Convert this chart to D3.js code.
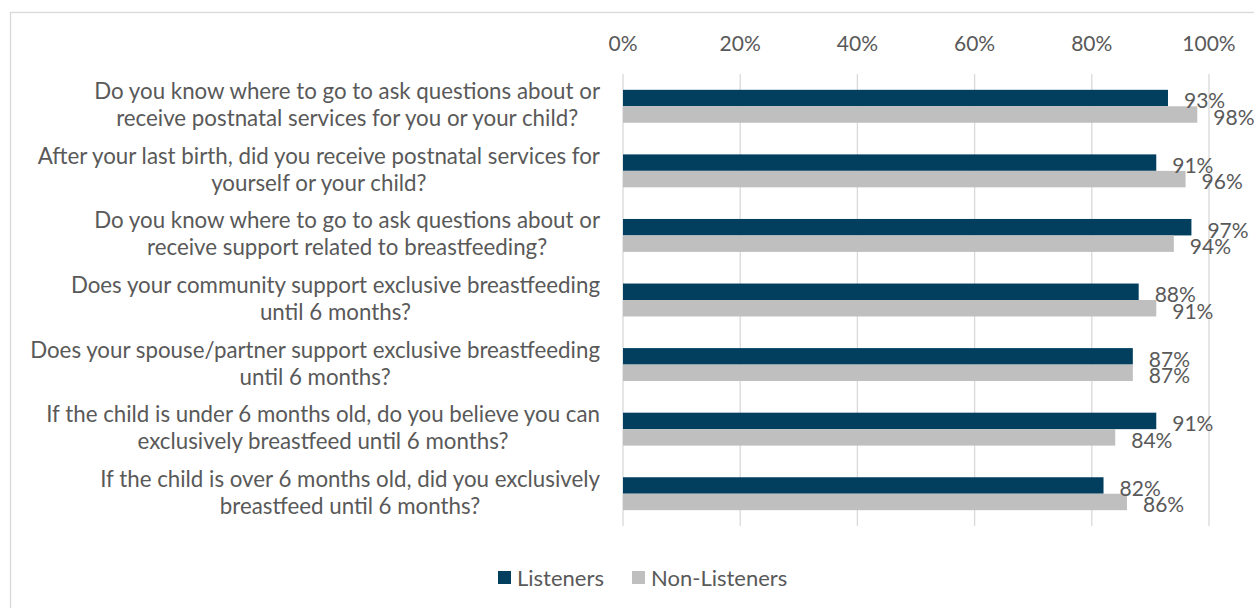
<!DOCTYPE html>
<html>
<head>
<meta charset="utf-8">
<script src="https://cdn.jsdelivr.net/npm/d3@7"></script>
<style>
  body { margin: 0; background: #fff; }
  text { font-family: Lato, "Open Sans", sans-serif; fill: #595959; }
</style>
</head>
<body>
<div id="chart"></div>
<script>
// questions, each split in two lines like the original
var questions = [
  ["Do you know where to go to ask questions about or", "receive postnatal services for you or your child?"],
  ["After your last birth, did you receive postnatal services for", "yourself or your child?"],
  ["Do you know where to go to ask questions about or", "receive support related to breastfeeding?"],
  ["Does your community support exclusive breastfeeding", "until 6 months?"],
  ["Does your spouse/partner support exclusive breastfeeding", "until 6 months?"],
  ["If the child is under 6 months old, do you believe you can", "exclusively breastfeed until 6 months?"],
  ["If the child is over 6 months old, did you exclusively", "breastfeed until 6 months?"]
];
var seriesNames = ["Listeners", "Non-Listeners"];
var listeners = [93, 91, 97, 88, 87, 91, 82];
var nonListeners = [98, 96, 94, 91, 87, 84, 86];
var ticks = [0, 20, 40, 60, 80, 100];
var colors = ["#023f5f", "#bfbfbf"];

var W = 1254, H = 608;
var svg = d3.select("#chart").append("svg").attr("width", W).attr("height", H);

// outer frame
svg.append("rect")
    .attr("x", 10.5).attr("y", 12.5)
    .attr("width", W + 20).attr("height", H + 20)
    .attr("fill", "none").attr("stroke", "#d9d9d9").attr("stroke-width", 1.3);

var x = d3.scaleLinear().domain([0, 100]).range([623, 1209]);
var y = d3.scaleBand().domain(d3.range(questions.length)).range([74, 526]).paddingInner(0.49).paddingOuter(0.245);
var y2 = d3.scaleBand().domain([0, 1]).range([0, y.bandwidth()]);

// grid
svg.append("g").selectAll("line").data(ticks).enter().append("line")
    .attr("x1", function(d) { return x(d); }).attr("x2", function(d) { return x(d); })
    .attr("y1", 74).attr("y2", 526)
    .attr("stroke", "#d9d9d9").attr("stroke-width", 1.3);

// top axis labels
svg.append("g").selectAll("text").data(ticks).enter().append("text")
    .attr("x", function(d) { return x(d); })
    .attr("y", 44)
    .attr("dy", "0.35em")
    .attr("text-anchor", "middle")
    .style("font-size", "21px")
    .text(function(d) { return d + "%"; });

var rows = questions.map(function(q, i) {
  return { q: q, vals: [listeners[i], nonListeners[i]] };
});

var g = svg.append("g").selectAll("g").data(rows).enter().append("g")
    .attr("transform", function(d, i) { return "translate(0," + y(i) + ")"; });

g.selectAll("rect").data(function(d) { return d.vals; }).enter().append("rect")
    .attr("x", x(0))
    .attr("y", function(d, j) { return y2(j); })
    .attr("width", function(d) { return x(d) - x(0); })
    .attr("height", y2.bandwidth())
    .attr("fill", function(d, j) { return colors[j]; });

g.selectAll("text.val").data(function(d) { return d.vals; }).enter().append("text")
    .attr("class", "val")
    .attr("x", function(d) { return x(d) + 16; })
    .attr("y", function(d, j) { return y2(j) + y2.bandwidth() / 2 + 3; })
    .attr("dy", "0.35em")
    .style("font-size", "21px")
    .text(function(d) { return d + "%"; });

// category labels: block right-aligned at 600, lines centred within it
g.each(function(d, i) {
  var grp = d3.select(this);
  var lines = d.q.map(function(t, k) {
    return grp.append("text")
      .attr("text-anchor", "middle")
      .style("font-size", "22.3px")
      .attr("y", y.bandwidth() / 2 + (k === 0 ? -7 : 20))
      .text(t);
  });
  var wmax = d3.max(lines, function(l) { return l.node().getComputedTextLength(); });
  lines.forEach(function(l) { l.attr("x", 600 - wmax / 2); });
});

// legend
var legend = svg.append("g");
var lx = [498, 632];
seriesNames.forEach(function(n, i) {
  legend.append("rect").attr("x", lx[i]).attr("y", 571).attr("width", 13).attr("height", 13).attr("fill", colors[i]);
  legend.append("text").attr("x", lx[i] + 19).attr("y", 578).attr("dy", "0.35em")
    .style("font-size", "22px").text(n);
});
</script>
</body>
</html>
